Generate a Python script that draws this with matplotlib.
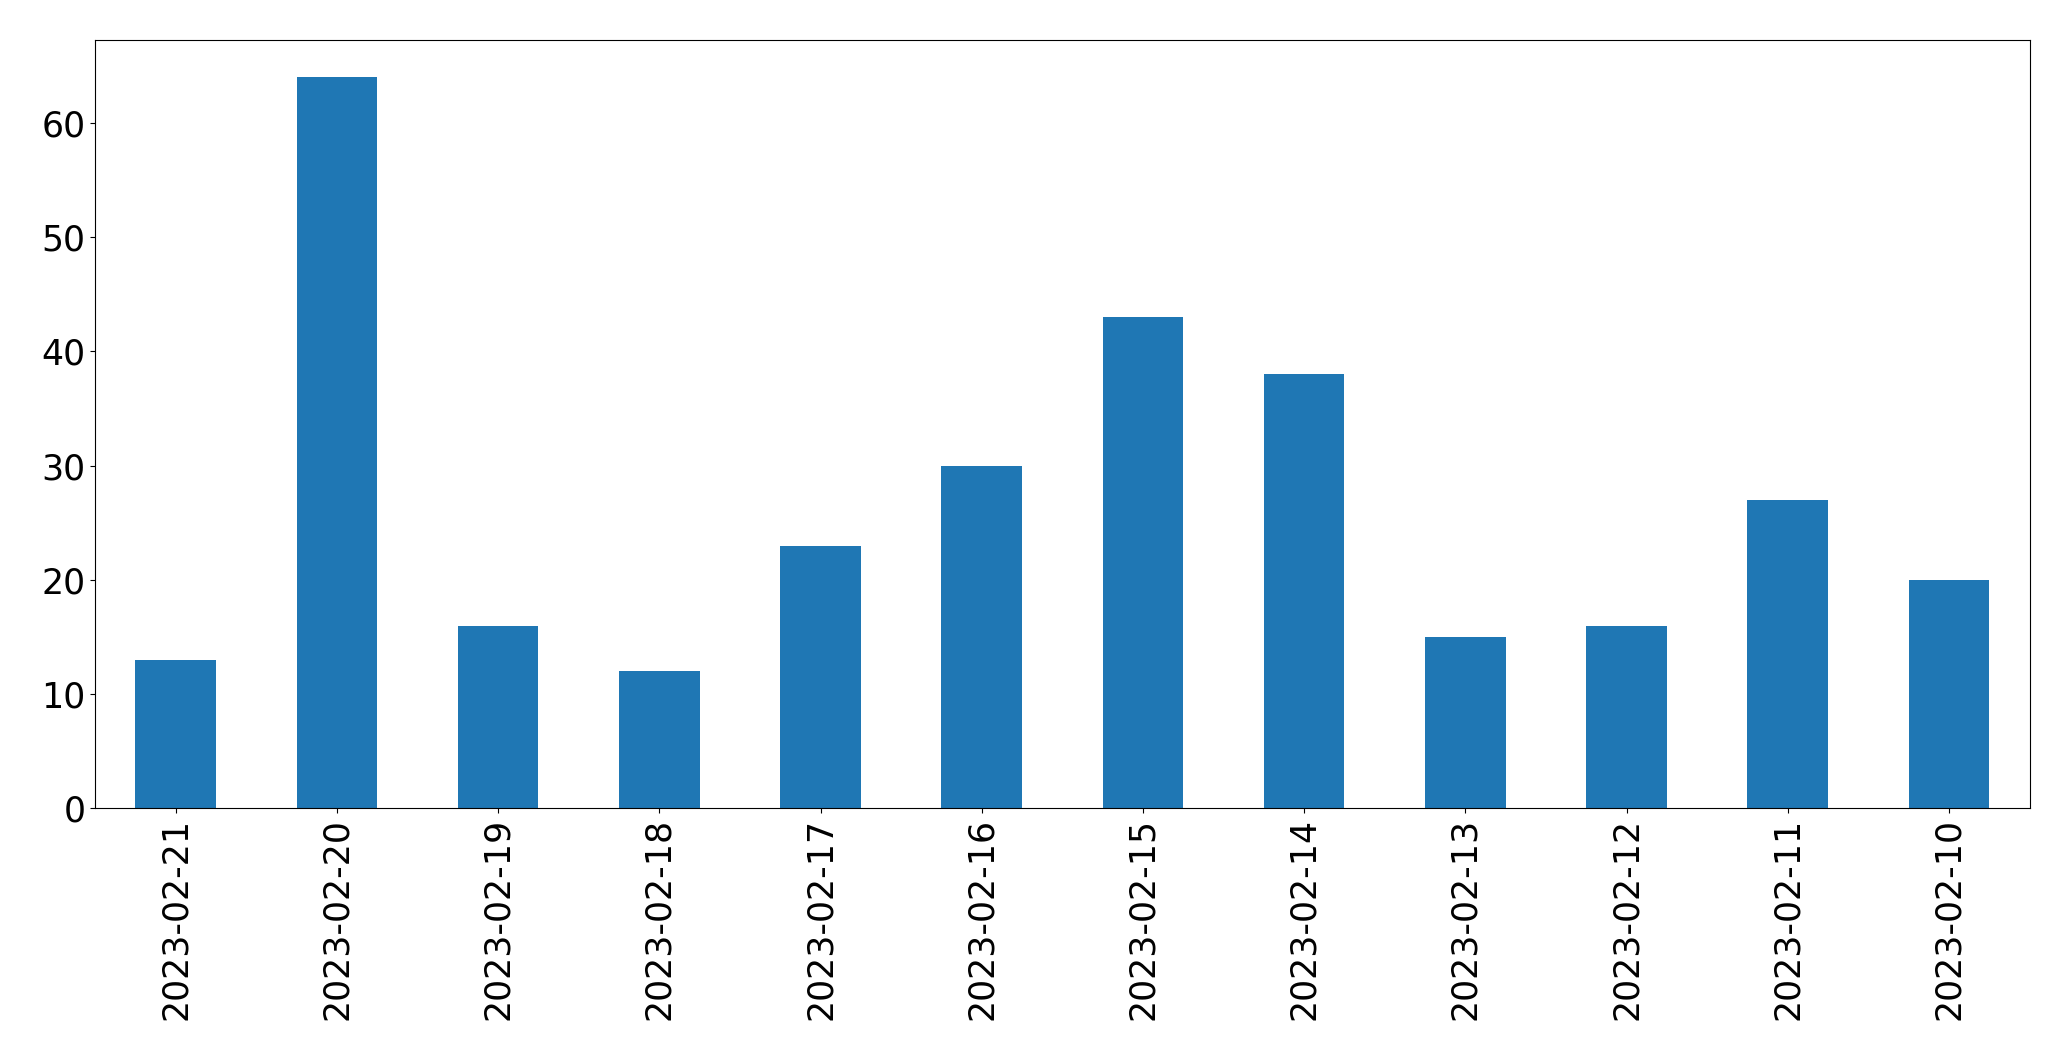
import matplotlib
matplotlib.use("Agg")
import matplotlib.pyplot as plt
import numpy as np

dates = ["2023-02-21", "2023-02-20", "2023-02-19", "2023-02-18", "2023-02-17", "2023-02-16",
         "2023-02-15", "2023-02-14", "2023-02-13", "2023-02-12", "2023-02-11", "2023-02-10"]
counts = [13, 64, 16, 12, 23, 30, 43, 38, 15, 16, 27, 20]

fig = plt.figure(figsize=(20.71, 10.61), dpi=100)
ax = fig.add_axes([0.0459, 0.238, 0.9341, 0.724])
x = np.arange(len(dates))
ax.bar(x, counts, width=0.5, color="#1f77b4")
ax.set_xlim(-0.5, len(dates) - 0.5)
ax.set_ylim(0, 67.2)
ax.set_xticks(x)
ax.set_xticklabels(dates, rotation=90)
ax.tick_params(axis="both", labelsize=25)
fig.savefig("out.png", dpi=100)
